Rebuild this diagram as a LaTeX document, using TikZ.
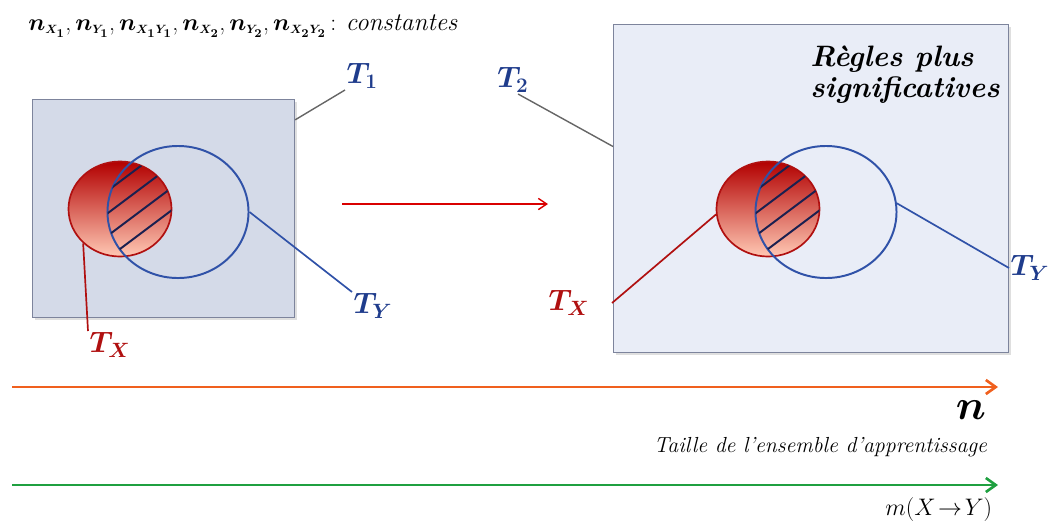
\RequirePackage{fix-cm}
\documentclass[tikz,border=0pt]{standalone}
\usepackage{fontspec}
\usetikzlibrary{arrows.meta,shapes.geometric,shadows,positioning}
\definecolor{boxonefill}{HTML}{D4DAE8}
\definecolor{boxtwofill}{HTML}{E9EDF7}
\definecolor{boxedge}{HTML}{7D849C}
\definecolor{setred}{HTML}{B01010}
\definecolor{setblue}{HTML}{3052A8}
\definecolor{hatchnavy}{HTML}{1A2050}
\definecolor{labelnavy}{HTML}{1F3C8C}
\definecolor{axisorange}{HTML}{F0601E}
\definecolor{axisgreen}{HTML}{1FA040}
\newcommand{\bmth}[1]{{\boldmath$#1$}}
\newcommand{\nsub}[1]{\bmth{n_{\scriptscriptstyle #1}}}
\begin{document}
\begin{tikzpicture}[x=0.025cm, y=-0.025cm,
    box/.style={draw=boxedge, line width=0.8pt, inner sep=0pt, anchor=north west,
        drop shadow={opacity=0.25, shadow xshift=1.5pt, shadow yshift=-1.5pt}},
    redset/.style={ellipse, draw=setred, line width=1.2pt, inner sep=0pt,
        minimum width=2.575cm, minimum height=2.375cm,
        top color=red!70!black, bottom color={rgb,255:red,255;green,200;blue,180}},
    blueset/.style={ellipse, draw=setblue, line width=1.4pt, inner sep=0pt,
        minimum width=3.525cm, minimum height=3.3cm},
    tlabel/.style={font=\fontsize{21}{24}\selectfont, text=labelnavy, inner sep=1pt},
    greyline/.style={draw=gray!80!black, line width=1pt},
    axisline/.style={line width=1.9pt, -{Straight Barb[length=7pt, width=10pt, line width=1.9pt]}}
]
\useasboundingbox (0,0) rectangle (1048,527);
\node[anchor=base west, font=\fontsize{17}{20}\selectfont, inner sep=0pt] (consts) at (28,30)
    {\nsub{X_1},\,\nsub{Y_1},\,\nsub{X_1Y_1},\,\nsub{X_2},\,\nsub{Y_2},\,\nsub{X_2Y_2}\,: {\fontsize{18}{21}\selectfont\textit{constantes}}};
\node[box, fill=boxonefill, minimum width=6.55cm, minimum height=5.45cm] (boxA) at (32,99) {};
\node[box, fill=boxtwofill, minimum width=9.875cm, minimum height=8.2cm] (boxB) at (613,24) {};
\node[anchor=north west, align=left, inner sep=0pt,
    font=\fontsize{21}{22}\selectfont\bfseries\itshape] (rules) at (810,46) {Règles plus\\significatives};
\foreach \s/\n in {0/A,648/B} {
    \node[redset] (red\n) at (120+\s,209) {};
    \node[blueset] (blue\n) at (178+\s,212) {};
    \begin{scope}
        \clip (120+\s,209) ellipse [x radius=51.5, y radius=47.5];
        \clip (178+\s,212) ellipse [x radius=70.5, y radius=66];
        \foreach \k in {-22,-4,14,32}
            \draw[hatchnavy, line width=1.4pt] (120+\s+0.6*\k-48,209+0.8*\k+36) -- (120+\s+0.6*\k+48,209+0.8*\k-36);
    \end{scope}
}
\node[tlabel, anchor=south west] (tone) at (345,90) {\bmth{T_1}};
\node[tlabel] (ttwo) at (513,80) {\bmth{T_2}};
\node[tlabel, anchor=north west] (tyA) at (352,292) {\bmth{T_Y}};
\node[tlabel, anchor=north west, text=setred] (txA) at (88,331) {\bmth{T_X}};
\node[tlabel, anchor=west] (tyB) at (1009,268) {\bmth{T_Y}};
\coordinate (txBend) at (612,303);
\node[tlabel, text=setred, left=15pt of txBend] (txB) {\bmth{T_X}};
\draw[greyline] (boxA.34) -- (tone.south west);
\draw[greyline] (ttwo.-70) -- (boxB.168);
\draw[setred, line width=1.2pt] (redA.223) -- (txA.north west);
\draw[setblue, line width=1.2pt] (blueA.east) -- (tyA.north west);
\draw[setred, line width=1.2pt] (redB.186) -- (txBend);
\draw[setblue, line width=1.2pt] (blueB.7) -- (tyB.west);
\coordinate (midL) at (342,204);
\coordinate (midR) at (548,204);
\draw[red!85!black, line width=1pt, -{Straight Barb[length=6pt, width=8pt]}] (midL) -- (midR);
\coordinate (nStart) at (12,387);
\coordinate (nEnd) at (998,387);
\coordinate (mStart) at (12,485);
\coordinate (mEnd) at (998,485);
\draw[axisline, axisorange] (nStart) -- (nEnd);
\draw[axisline, axisgreen] (mStart) -- (mEnd);
\node[font=\fontsize{30}{32}\selectfont] (nlabel) at (971,410) {\bmth{n}};
\node[anchor=east, font=\fontsize{15.5}{18}\selectfont\itshape] (nsub) at (992,447) {Taille de l’ensemble d’apprentissage};
\node[anchor=east, font=\fontsize{17}{20}\selectfont] (mlabel) at (997,510) {$m(X\!\to\! Y)$};
\end{tikzpicture}
\end{document}
